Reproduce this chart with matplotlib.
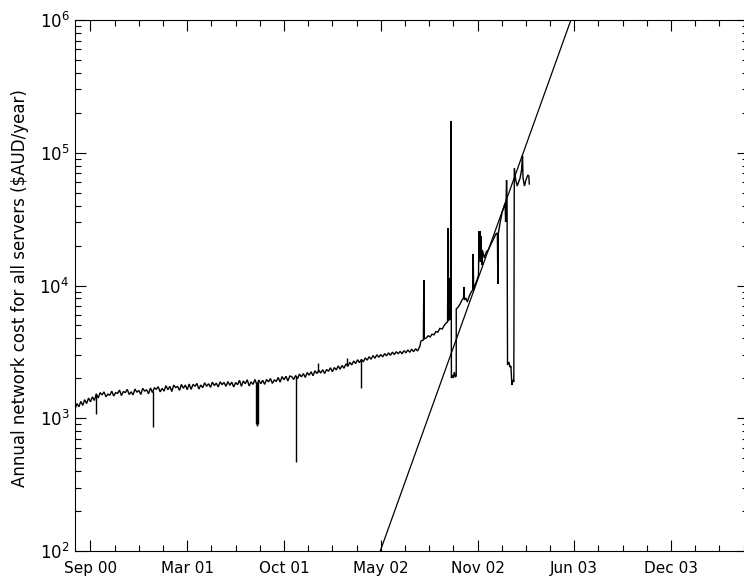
import numpy as np
import matplotlib
matplotlib.use('Agg')
import matplotlib.pyplot as plt
import matplotlib.dates as mdates
from matplotlib.ticker import FixedLocator, LogLocator, NullFormatter, FixedFormatter
import datetime as dt

# ---------------- data ----------------
origin = dt.date(2000, 8, 10)          # date of the first sample
step_days = 4                           # spacing of the regular samples

# regular samples (every 4 days) of the annual network cost ($AUD/year)
base_values = [
    1170, 1290, 1220, 1340, 1250, 1380,
    1290, 1420, 1330, 1450, 1360,
    1530, 1420, 1560, 1500, 1580, 1450, 1520, 1490,
    1600, 1470, 1560, 1540, 1630, 1480, 1590, 1560, 1650, 1510,
    1580, 1500, 1660, 1570, 1620, 1510, 1680, 1600, 1640, 1530,
    1690, 1560, 1700, 1650, 1730, 1580, 1680, 1600, 1760, 1640, 1740,
    1590, 1780, 1700, 1740, 1620, 1800, 1680, 1780, 1640, 1810,
    1650, 1800, 1740, 1830, 1660, 1780, 1700, 1850, 1740, 1820, 1710,
    1870, 1760, 1840, 1720, 1880, 1790, 1860, 1740, 1890, 1770,
    1870, 1720, 1860, 1790, 1930, 1740, 1910, 1820, 1950, 1750, 1880,
    1800, 1960, 1780, 1940,
    1820, 1930, 1800, 1960, 1880, 1990, 1830, 1950, 1890, 2030, 1870,
    2060, 1950, 2070, 1910, 2080,
    2060, 1960, 2100, 1990, 2150, 2050, 2170, 2030, 2210, 2110, 2240,
    2090, 2280, 2170, 2300,
    2190, 2320, 2170, 2330, 2260, 2400, 2240, 2410, 2310, 2480, 2340,
    2500, 2380, 2570, 2460, 2640, 2520, 2700, 2580, 2760, 2620,
    2780, 2660, 2850, 2740, 2910, 2780, 2970, 2830, 3010, 2880,
    3020, 2900, 3070, 2950, 3110, 2980, 3150, 3020, 3170, 3060,
    3190, 3060, 3230, 3110, 3270, 3140, 3310, 3170, 3340, 3211,
]

# irregular samples of the last months (days after origin)
late_days = [
    713, 715, 720, 721, 722, 726, 730, 734, 738, 742, 746, 750, 754, 759, 763,
    767, 770, 771, 772, 773, 774, 775, 776, 777, 778, 780, 782, 784, 786, 788,
    788, 792, 796, 800, 803, 804, 805, 808, 811, 815, 819, 822, 823, 824, 827,
    831, 834, 835, 836, 837, 838, 839, 841, 842, 846, 850, 854, 858, 862, 866,
    870, 873, 874, 875, 879, 883, 886, 889, 890, 891, 892, 893, 894, 897, 899,
    901, 903, 905, 907, 908, 911, 914, 917, 920, 923, 925, 926, 929, 932, 936,
    938, 939,
]
late_values = [
    3501, 3820, 3886, 11000, 3950, 4023, 4180, 4100, 4300, 4250, 4500, 4450,
    4750, 4700, 5000, 5218, 5300, 27120, 5400, 11390, 5700, 10500, 5500,
    173500, 2010, 2117, 2010, 2230, 2045, 2081, 6653, 6887, 7256, 7779, 8053,
    9743, 7779, 8053, 7513, 8337, 8934, 9250, 17280, 9250, 10090, 11000, 12000,
    25740, 16110, 25740, 15030, 23600, 14270, 18510, 16110, 17880, 18510, 19840,
    21270, 22790, 24430, 24860, 10260, 24860, 30090, 35790, 38350, 41830, 30090,
    44070, 62330, 44070, 2518, 2653, 2432, 2475, 1781, 1942, 1876, 76790, 62330,
    56170, 60200, 64540, 74130, 94500, 64540, 56170, 62330, 67990, 66820, 58150,
]

# single-day outliers in the early part (days after origin, value)
spike_days = [43, 161, 375, 376, 377, 378, 457, 502, 562, 591]
spike_values = [1076, 865, 900, 880, 894, 910, 466, 2607, 2830, 1680]

# exponential fit (days after origin, value)
fit_days = [631, 1025]
fit_values = [1e2, 1e6]

tick_dates = ['2000-09-11', '2001-03-30', '2001-10-16', '2002-05-04',
              '2002-11-20', '2003-06-08', '2003-12-25']
tick_labels = ['Sep 00', 'Mar 01', 'Oct 01', 'May 02', 'Nov 02', 'Jun 03', 'Dec 03']
minor_step_days = 50
x_range_days = [0, 1390]
y_range = [1e2, 1e6]
ylabel = 'Annual network cost for all servers ($AUD/year)'

# ---------------- figure ----------------
plt.rcParams['font.family'] = ['DejaVu Sans']
plt.rcParams['mathtext.fontset'] = 'dejavusans'

fig = plt.figure(figsize=(7.44, 5.77), dpi=100)
ax = fig.add_axes([75 / 744, 26 / 577, 672.5 / 744, 531 / 577])

x0 = mdates.date2num(origin)
base_x = x0 + step_days * np.arange(len(base_values))
series_x = np.concatenate([base_x, x0 + np.array(late_days, dtype=float)])
series_y = np.concatenate([np.array(base_values, float), np.array(late_values, float)])

ax.plot(series_x, series_y, color='black', lw=1.0, solid_joinstyle='miter')

sx = x0 + np.array(spike_days, dtype=float)
base_at = np.interp(sx, base_x, np.array(base_values, float))
ax.vlines(sx, base_at, spike_values, color='black', lw=1.0)

ax.plot(x0 + np.array(fit_days, float), fit_values, color='black', lw=0.9)

ax.set_yscale('log')
ax.set_ylim(*y_range)
ax.set_xlim(x0 + x_range_days[0], x0 + x_range_days[1])

tick_x = [mdates.date2num(np.datetime64(d).astype(dt.date)) for d in tick_dates]
ax.xaxis.set_major_locator(FixedLocator(tick_x))
ax.xaxis.set_major_formatter(FixedFormatter(tick_labels))
minor_x = [tick_x[0] + minor_step_days * k for k in range(-1, 28)]
ax.xaxis.set_minor_locator(FixedLocator(minor_x))
ax.xaxis.set_minor_formatter(NullFormatter())

ax.yaxis.set_major_locator(LogLocator(base=10, numticks=10))
ax.yaxis.set_minor_locator(LogLocator(base=10, subs=np.arange(2, 10), numticks=20))
ax.yaxis.set_minor_formatter(NullFormatter())

ax.tick_params(which='both', direction='in', top=True, right=True, width=0.8, colors='black')
ax.tick_params(which='major', length=7.7)
ax.tick_params(which='minor', length=4.3)
ax.tick_params(axis='x', which='major', labelsize=11, pad=7)
ax.tick_params(axis='y', which='major', labelsize=12, pad=4)

for s in ax.spines.values():
    s.set_linewidth(0.8)

fig.text(20 / 744, 0.5, ylabel, rotation=90,
         ha='center', va='center', fontsize=12)

fig.savefig('out.png', dpi=100)
